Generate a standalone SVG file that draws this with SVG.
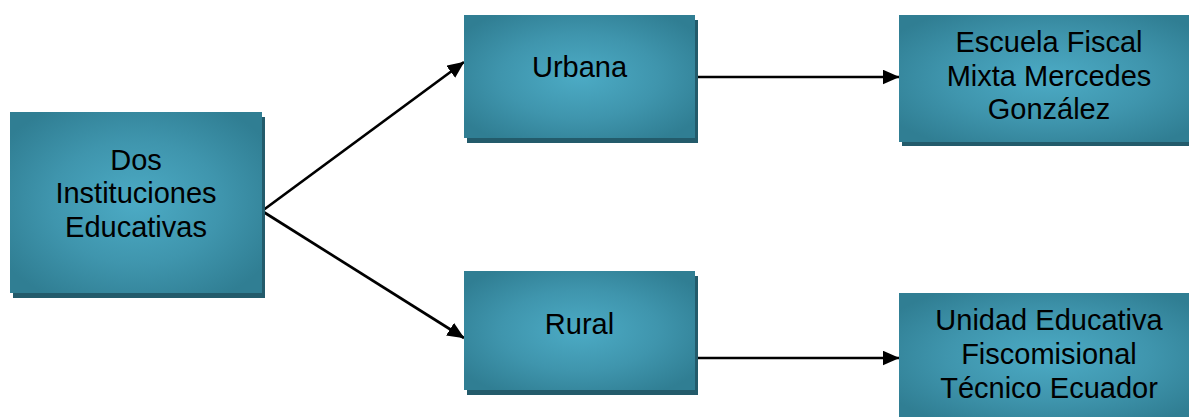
<svg xmlns="http://www.w3.org/2000/svg" width="1189" height="417" viewBox="0 0 1189 417">
  <defs>
    <radialGradient id="boxGrad" cx="50%" cy="50%" r="62%">
      <stop offset="0" stop-color="#4cabc5"/>
      <stop offset="0.55" stop-color="#3f95ad"/>
      <stop offset="1" stop-color="#307e93"/>
    </radialGradient>
    <marker id="arrow" markerUnits="userSpaceOnUse" markerWidth="18" markerHeight="16" refX="16.5" refY="7.5" orient="auto">
      <path d="M0,0 L17,7.5 L0,15 z" fill="#000"/>
    </marker>
  </defs>
  <style>
    .shadow { fill: #235b6b; }
    .box { fill: url(#boxGrad); }
    .label { font-family: "Liberation Sans", Arial, sans-serif; font-size: 29px; fill: #000; text-anchor: middle; }
    .conn { stroke: #000; stroke-width: 2.7; fill: none; marker-end: url(#arrow); }
  </style>
  <rect width="1189" height="417" fill="#ffffff"/>

  <g id="connectors">
    <line class="conn" x1="262" y1="211" x2="464" y2="62"/>
    <line class="conn" x1="262" y1="211" x2="464" y2="338"/>
    <line class="conn" x1="694" y1="77" x2="899" y2="77"/>
    <line class="conn" x1="694" y1="358" x2="899" y2="358"/>
  </g>

  <g id="node-dos">
    <rect class="shadow" x="13" y="117" width="252" height="181"/>
    <rect class="box" x="10" y="112" width="252" height="181"/>
    <text class="label" x="136" y="170">Dos</text>
    <text class="label" x="136" y="203">Instituciones</text>
    <text class="label" x="136" y="237">Educativas</text>
  </g>

  <g id="node-urbana">
    <rect class="shadow" x="467" y="20" width="231" height="123"/>
    <rect class="box" x="464" y="15" width="231" height="123"/>
    <text class="label" x="579.5" y="77">Urbana</text>
  </g>

  <g id="node-rural">
    <rect class="shadow" x="467" y="276" width="231" height="119"/>
    <rect class="box" x="464" y="271" width="231" height="119"/>
    <text class="label" x="579.5" y="334">Rural</text>
  </g>

  <g id="node-escuela">
    <rect class="shadow" x="902" y="20" width="300" height="126"/>
    <rect class="box" x="899" y="15" width="300" height="127"/>
    <text class="label" x="1049" y="52">Escuela Fiscal</text>
    <text class="label" x="1049" y="86">Mixta Mercedes</text>
    <text class="label" x="1049" y="119">González</text>
  </g>

  <g id="node-unidad">
    <rect class="shadow" x="902" y="298" width="300" height="127"/>
    <rect class="box" x="899" y="293" width="300" height="127"/>
    <text class="label" x="1049" y="330">Unidad Educativa</text>
    <text class="label" x="1049" y="364">Fiscomisional</text>
    <text class="label" x="1049" y="398">Técnico Ecuador</text>
  </g>
</svg>
